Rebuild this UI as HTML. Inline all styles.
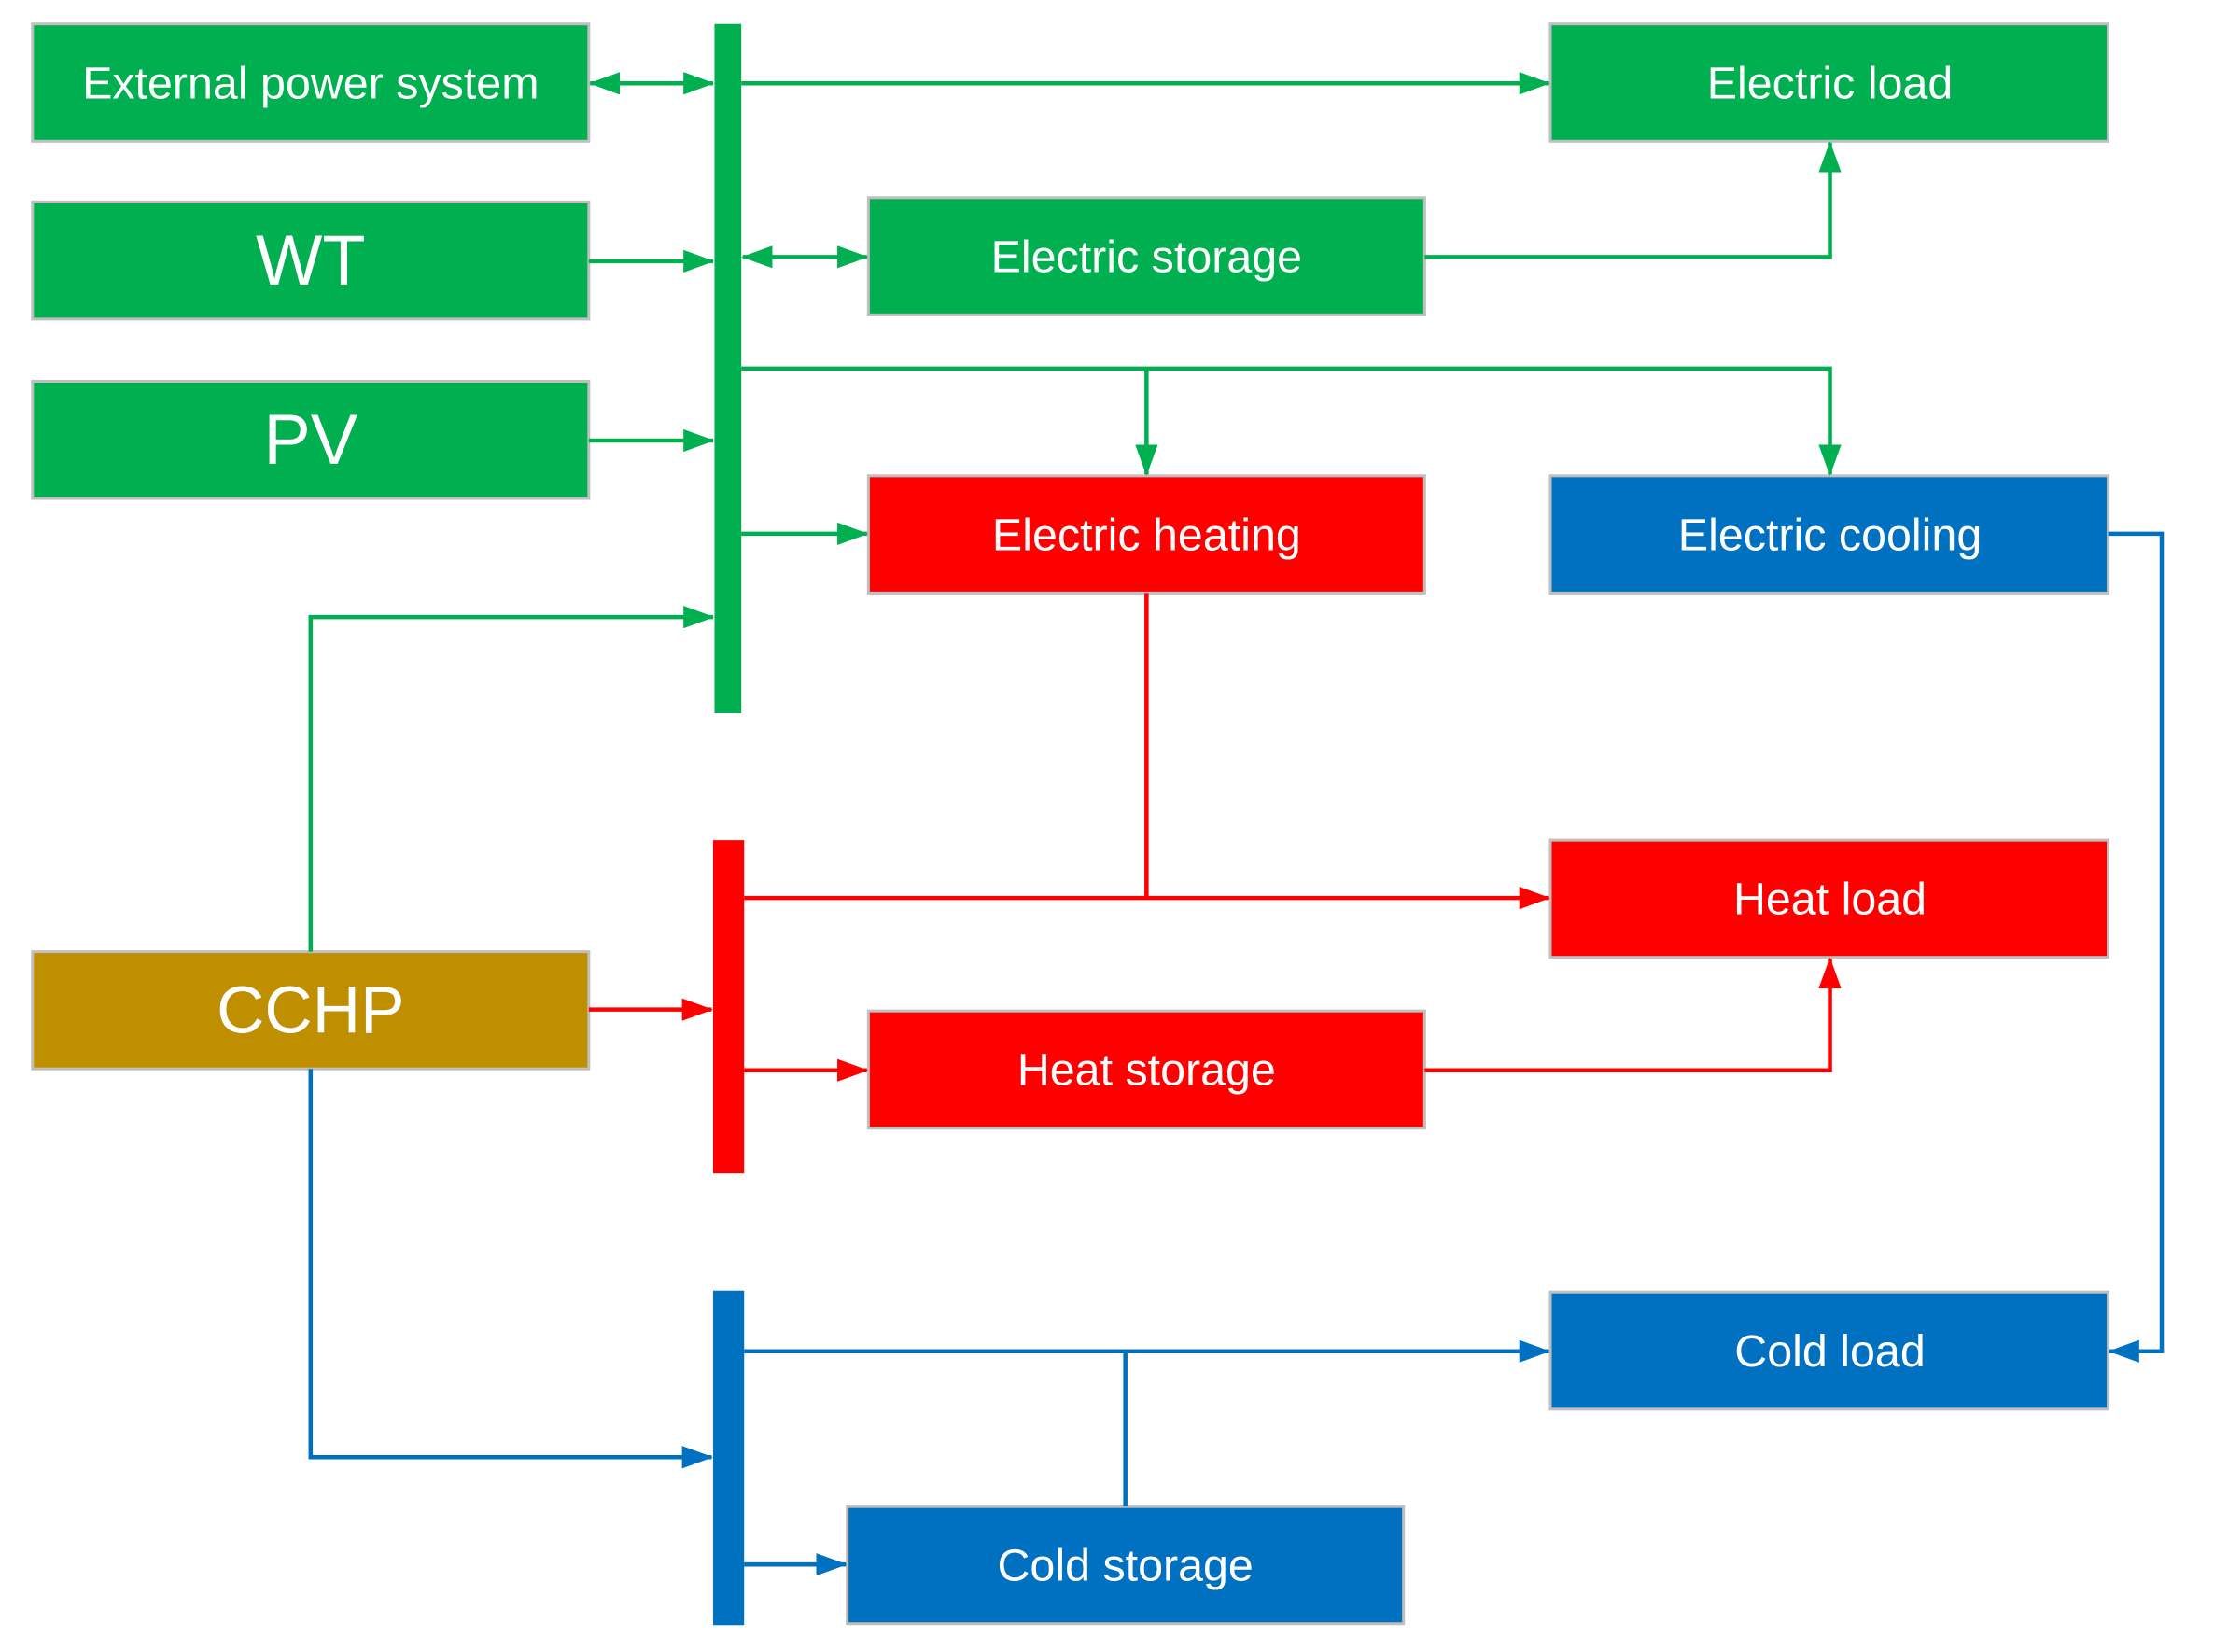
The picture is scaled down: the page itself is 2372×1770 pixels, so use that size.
<!DOCTYPE html>
<html><head><meta charset="utf-8"><style>
html,body{margin:0;padding:0;background:#fff;}
svg{display:block;}
text{font-family:"Liberation Sans",sans-serif;fill:#fff;text-anchor:middle;dominant-baseline:central;}
</style></head><body>
<svg width="2372" height="1770" viewBox="0 0 1568 1170" preserveAspectRatio="none" xmlns="http://www.w3.org/2000/svg">
<defs>
<marker id="ag" markerUnits="userSpaceOnUse" markerWidth="22" markerHeight="16" refX="21" refY="8" orient="auto-start-reverse"><path d="M0,0 L22,8 L0,16 Z" fill="#00B050"/></marker>
<marker id="ar" markerUnits="userSpaceOnUse" markerWidth="22" markerHeight="16" refX="21" refY="8" orient="auto-start-reverse"><path d="M0,0 L22,8 L0,16 Z" fill="#FF0000"/></marker>
<marker id="ab" markerUnits="userSpaceOnUse" markerWidth="22" markerHeight="16" refX="21" refY="8" orient="auto-start-reverse"><path d="M0,0 L22,8 L0,16 Z" fill="#0070C0"/></marker>
</defs>
<g stroke="#BFBFBF" stroke-width="2">
<rect x="23" y="17" width="394" height="83" fill="#00B050"/>
<rect x="23" y="143" width="394" height="83" fill="#00B050"/>
<rect x="23" y="270" width="394" height="83" fill="#00B050"/>
<rect x="1098" y="17" width="395" height="83" fill="#00B050"/>
<rect x="615" y="140" width="394" height="83" fill="#00B050"/>
<rect x="615" y="337" width="394" height="83" fill="#FF0000"/>
<rect x="1098" y="337" width="395" height="83" fill="#0070C0"/>
<rect x="1098" y="595" width="395" height="83" fill="#FF0000"/>
<rect x="615" y="716" width="394" height="83" fill="#FF0000"/>
<rect x="1098" y="915" width="395" height="83" fill="#0070C0"/>
<rect x="600" y="1067" width="394" height="83" fill="#0070C0"/>
<rect x="23" y="674" width="394" height="83" fill="#BF8F00"/>
</g>
<rect x="506" y="17" width="19" height="488" fill="#00B050"/>
<rect x="505" y="595" width="22" height="236" fill="#FF0000"/>
<rect x="505" y="914" width="22" height="237" fill="#0070C0"/>
<g fill="none" stroke-width="3">
<g stroke="#00B050">
<path d="M418,59 H505" marker-start="url(#ag)" marker-end="url(#ag)"/>
<path d="M525,59 H1097" marker-end="url(#ag)"/>
<path d="M417,185 H505" marker-end="url(#ag)"/>
<path d="M526,182 H614" marker-start="url(#ag)" marker-end="url(#ag)"/>
<path d="M1009,182 H1296 V101" marker-end="url(#ag)"/>
<path d="M417,312 H505" marker-end="url(#ag)"/>
<path d="M525,261 H1296 V336" marker-end="url(#ag)"/>
<path d="M812,261 V336" marker-end="url(#ag)"/>
<path d="M525,378 H614" marker-end="url(#ag)"/>
<path d="M220,674 V437 H505" marker-end="url(#ag)"/>
</g>
<g stroke="#FF0000">
<path d="M812,420 V636"/>
<path d="M527,636 H1097" marker-end="url(#ar)"/>
<path d="M417,715 H504" marker-end="url(#ar)"/>
<path d="M527,758 H614" marker-end="url(#ar)"/>
<path d="M1009,758 H1296 V679" marker-end="url(#ar)"/>
</g>
<g stroke="#0070C0">
<path d="M1493,378 H1531 V957 H1494" marker-end="url(#ab)"/>
<path d="M527,957 H1097" marker-end="url(#ab)"/>
<path d="M797,957 V1067"/>
<path d="M220,757 V1032 H504" marker-end="url(#ab)"/>
<path d="M527,1108 H599" marker-end="url(#ab)"/>
</g>
</g>
<text x="220" y="59" font-size="32">External power system</text>
<text x="220" y="185" font-size="50">WT</text>
<text x="220" y="312" font-size="50">PV</text>
<text x="1296" y="59" font-size="32">Electric load</text>
<text x="812" y="182" font-size="32">Electric storage</text>
<text x="812" y="379" font-size="32">Electric heating</text>
<text x="1296" y="379" font-size="32">Electric cooling</text>
<text x="1296" y="637" font-size="32">Heat load</text>
<text x="812" y="758" font-size="32">Heat storage</text>
<text x="1296" y="957" font-size="32">Cold load</text>
<text x="797" y="1109" font-size="32">Cold storage</text>
<text x="220" y="716" font-size="47">CCHP</text>
</svg>
</body></html>
